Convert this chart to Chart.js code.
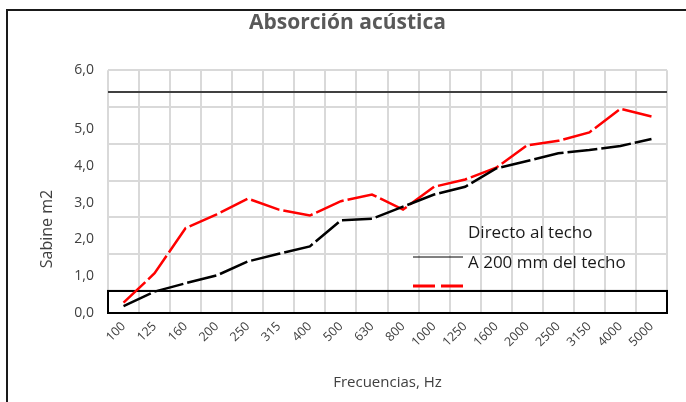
<!DOCTYPE html>
<html>
<head>
<meta charset="utf-8">
<script src="https://cdn.jsdelivr.net/npm/chart.js@4.4.0/dist/chart.umd.min.js"></script>
<style>
  html, body { margin: 0; padding: 0; background: #fff; overflow: hidden; }
  #wrap { position: relative; width: 686px; height: 402px; }
  #frame { position: absolute; left: 6px; top: 9px; width: 720px; height: 440px;
           border: 2px solid #1a1a1a; pointer-events: none; }
</style>
</head>
<body>
<div id="wrap">
  <canvas id="grafico" width="686" height="402"></canvas>
  <div id="frame"></div>
</div>
<script>
const frecuencias = ["100", "125", "160", "200", "250", "315", "400", "500", "630", "800",
  "1000", "1250", "1600", "2000", "2500", "3150", "4000", "5000"];

const directoTecho = [0.19, 0.58, 0.81, 1.02, 1.40, 1.61, 1.81, 2.52, 2.56, 2.89,
  3.22, 3.43, 3.93, 4.13, 4.34, 4.43, 4.54, 4.73];

const a200mmTecho = [0.28, 1.08, 2.31, 2.68, 3.11, 2.81, 2.65, 3.04, 3.22, 2.81,
  3.43, 3.63, 3.95, 4.56, 4.68, 4.91, 5.55, 5.34];

// etiquetas del eje Y (la de 6,0 quedó pegada arriba del área)
const yTickLabels = ["0,0", "1,0", "2,0", "3,0", "4,0", "5,0", "6,0"];
const yTickValues = [0, 1, 2, 3, 4, 5, 6.6];
const yGridValues = [0.6, 1.6, 2.6, 3.6, 4.6, 5.6, 6.6];
const yLineaOscura = 6;

const fuente = "'Open Sans', 'Noto Sans', sans-serif";

// caja negra al pie, título del eje Y y leyenda suelta dentro del gráfico
const extras = {
  id: "extras",
  beforeDatasetsDraw(chart) {
    const { ctx, chartArea, scales } = chart;
    const yTop = scales.y.getPixelForValue(yGridValues[0]);
    const yBot = scales.y.getPixelForValue(0);
    ctx.save();
    ctx.strokeStyle = "#000";
    ctx.lineWidth = 2;
    ctx.strokeRect(chartArea.left, yTop, chartArea.right - chartArea.left, yBot - yTop);

    // "Sabine m2" va algo más abajo que el centro del área
    ctx.save();
    ctx.translate(47, 229);
    ctx.rotate(-Math.PI / 2);
    ctx.fillStyle = "#404040";
    ctx.font = "16px " + fuente;
    ctx.textAlign = "center";
    ctx.textBaseline = "middle";
    ctx.fillText("Sabine m2", 0, 0);
    ctx.restore();

    ctx.fillStyle = "#1a1a1a";
    ctx.font = "17px " + fuente;
    ctx.textBaseline = "middle";
    ctx.fillText("Directo al techo", 468, 233);
    ctx.fillText("A 200 mm del techo", 468, 263);

    ctx.strokeStyle = "#000";
    ctx.lineWidth = 1;
    ctx.beginPath();
    ctx.moveTo(413, 257);
    ctx.lineTo(463, 257);
    ctx.stroke();

    ctx.strokeStyle = "#ff0000";
    ctx.lineWidth = 3;
    ctx.setLineDash([22, 6]);
    ctx.beginPath();
    ctx.moveTo(413, 286);
    ctx.lineTo(463, 286);
    ctx.stroke();
    ctx.restore();
  }
};

const ctx = document.getElementById("grafico").getContext("2d");
new Chart(ctx, {
  type: "line",
  data: {
    labels: frecuencias,
    datasets: [
      {
        label: "Directo al techo",
        data: directoTecho,
        borderColor: "#000000",
        borderWidth: 2.5,
        borderDash: [30, 4],
        pointRadius: 0,
        tension: 0
      },
      {
        label: "A 200 mm del techo",
        data: a200mmTecho,
        borderColor: "#ff0000",
        borderWidth: 2.5,
        borderDash: [30, 4],
        pointRadius: 0,
        tension: 0
      }
    ]
  },
  options: {
    responsive: false,
    animation: false,
    layout: { padding: { left: 28, right: 19, top: 0, bottom: 6 } },
    plugins: {
      legend: { display: false },
      tooltip: { enabled: false },
      title: {
        display: true,
        text: "Absorción acústica",
        color: "#595959",
        font: { family: fuente, size: 21, weight: "bold" },
        padding: { top: 10, bottom: 35 }
      }
    },
    scales: {
      x: {
        offset: true,
        grid: { offset: true, color: "#d9d9d9", lineWidth: 2, drawTicks: false },
        border: { display: false },
        ticks: {
          color: "#404040",
          font: { family: fuente, size: 12.5 },
          minRotation: 45,
          maxRotation: 45,
          autoSkip: false,
          padding: 6
        },
        title: {
          display: true,
          text: "Frecuencias, Hz",
          color: "#404040",
          font: { family: fuente, size: 15 },
          padding: { top: 4, bottom: 4 }
        },
        afterFit(scale) { scale.height = 83; }
      },
      y: {
        min: 0,
        max: 6.6,
        grid: {
          drawTicks: false,
          lineWidth: 2,
          color(c) {
            const v = c.tick.value;
            if (v === 0 || v === yGridValues[0]) return "#000000";
            if (v === yLineaOscura) return "#404040";
            if (yGridValues.includes(v)) return "#d9d9d9";
            return "rgba(0,0,0,0)";
          }
        },
        border: { display: false },
        afterBuildTicks(scale) {
          const vals = [...new Set([...yTickValues, ...yGridValues, yLineaOscura])].sort((a, b) => a - b);
          scale.ticks = vals.map(v => ({ value: v }));
        },
        ticks: {
          autoSkip: false,
          color: "#404040",
          font: { family: fuente, size: 14 },
          padding: 14,
          callback(value) {
            const i = yTickValues.indexOf(value);
            return i >= 0 ? yTickLabels[i] : "";
          }
        },
        afterFit(scale) { scale.width = 80; }
      }
    }
  },
  plugins: [extras]
});
</script>
</body>
</html>
